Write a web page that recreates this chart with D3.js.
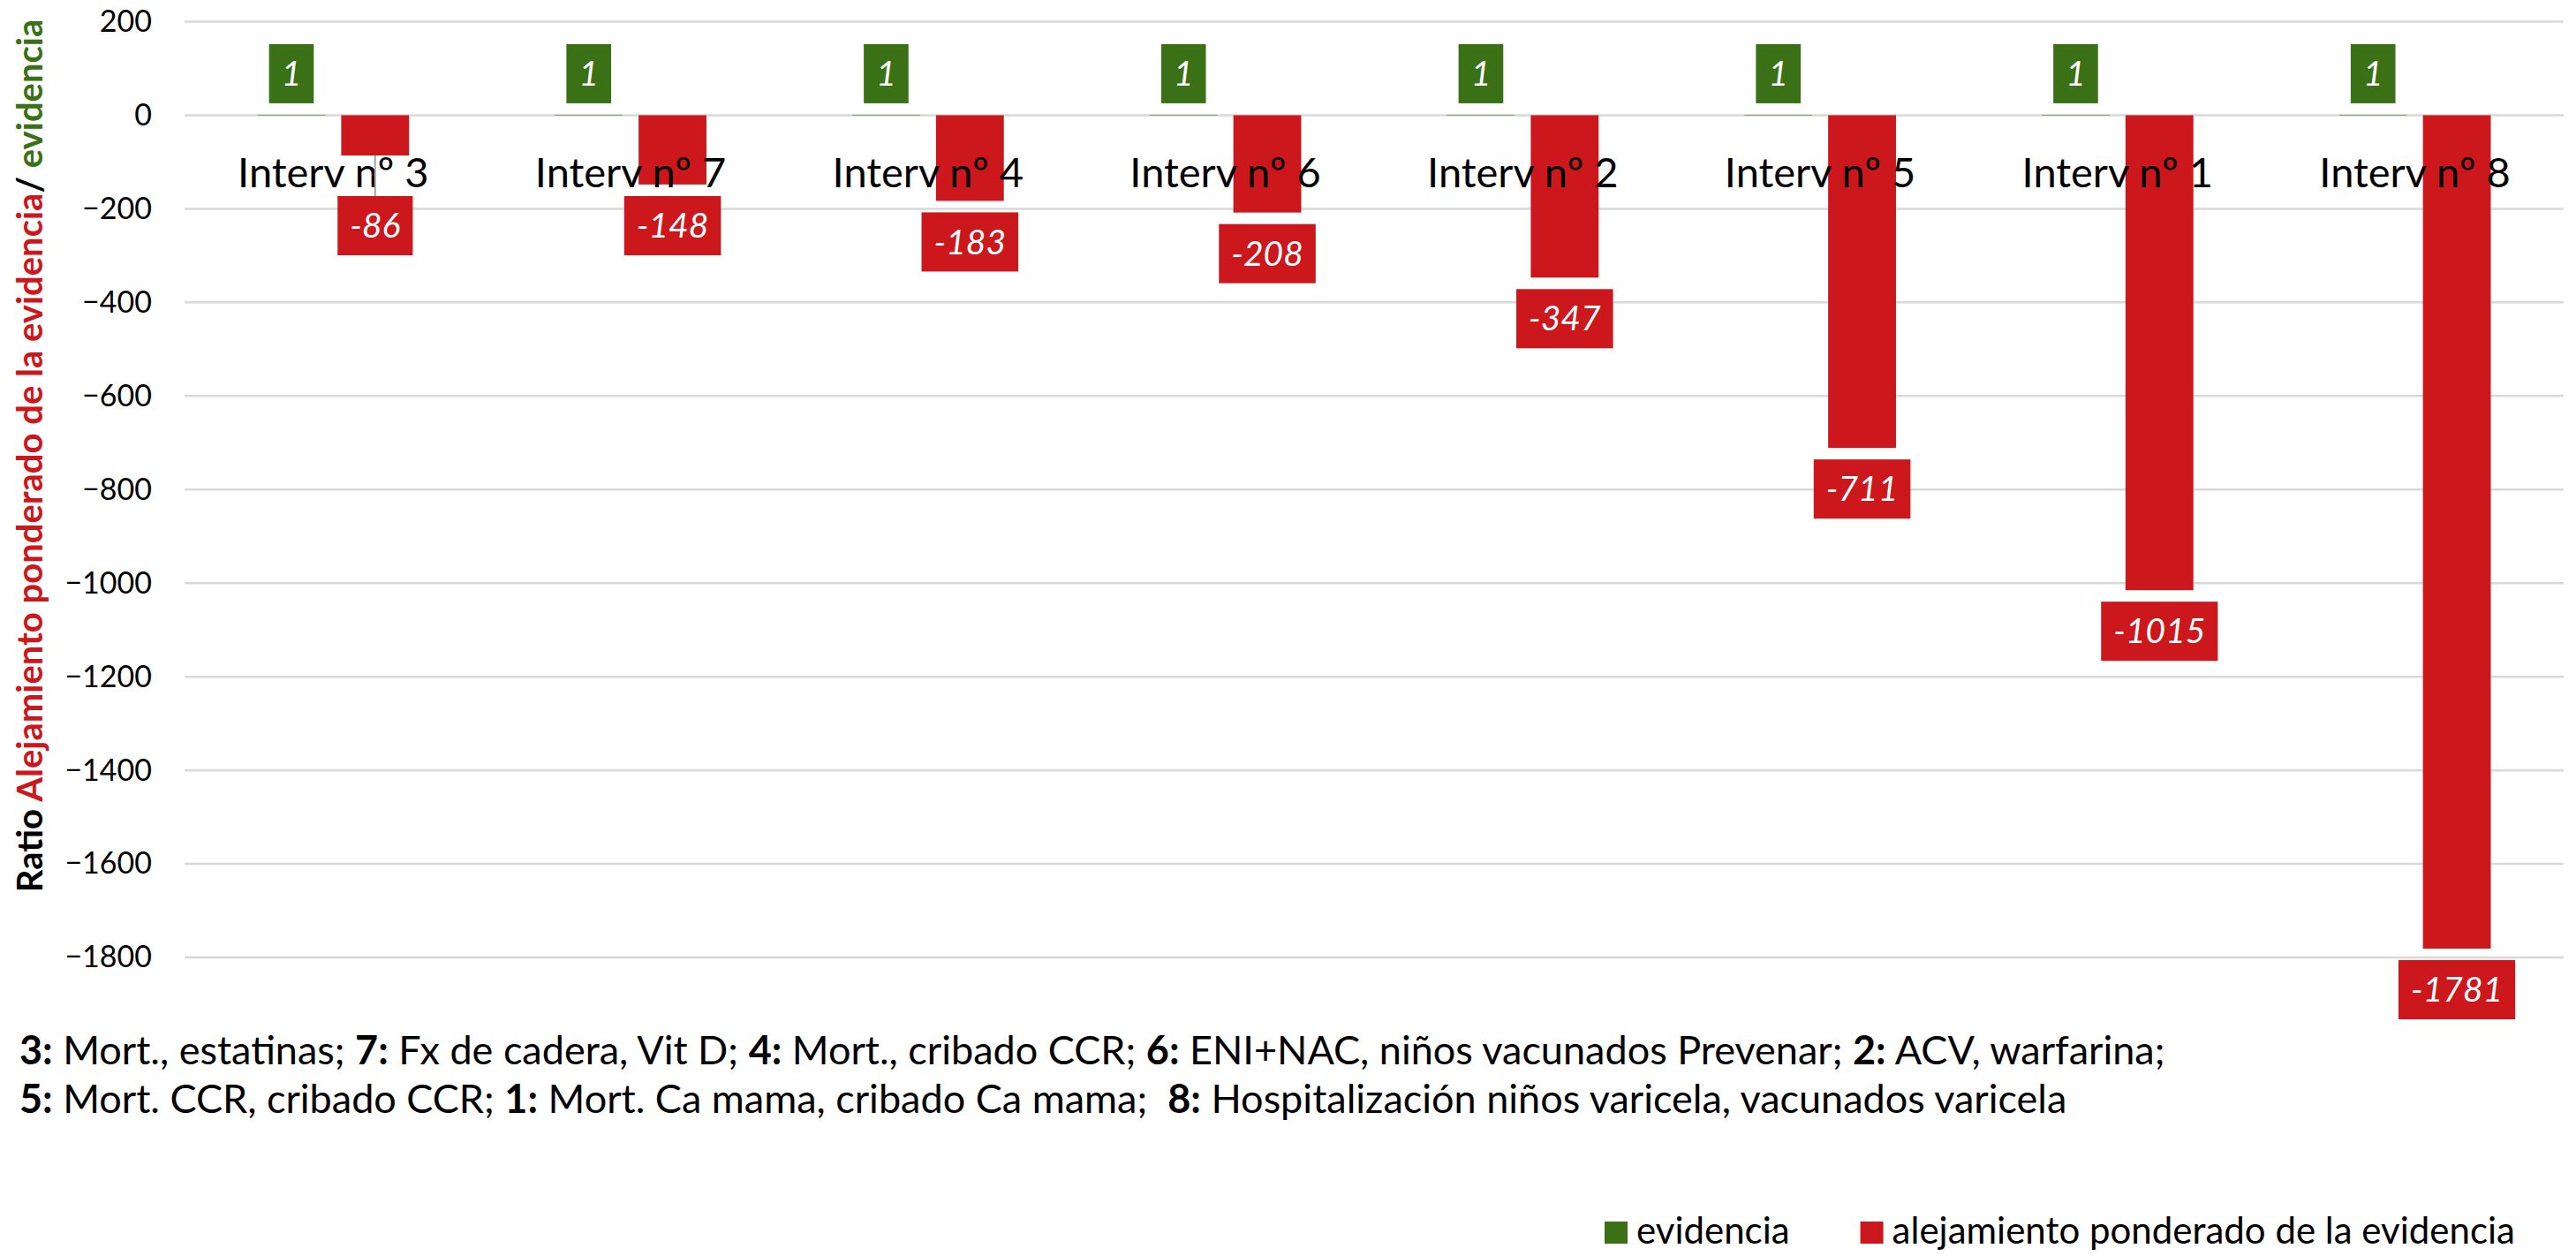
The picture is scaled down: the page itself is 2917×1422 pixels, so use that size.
<!DOCTYPE html>
<html>
<head>
<meta charset="utf-8">
<script src="https://cdn.jsdelivr.net/npm/d3@7"></script>
<style>
  body { margin: 0; background: #fff; }
  text { font-family: Lato, "Open Sans", sans-serif; }
</style>
</head>
<body>
<script>
const svgWidth = 2917;
const svgHeight = 1422;

// data
const categories = ["Interv nº 3", "Interv nº 7", "Interv nº 4", "Interv nº 6",
    "Interv nº 2", "Interv nº 5", "Interv nº 1", "Interv nº 8"];
const evidencia = [1, 1, 1, 1, 1, 1, 1, 1];
const alejamiento = [-86, -148, -183, -208, -347, -711, -1015, -1781];
const seriesNames = ["evidencia", "alejamiento ponderado de la evidencia"];
const yTicks = [200, 0, -200, -400, -600, -800, -1000, -1200, -1400, -1600, -1800];
const noteLines = [
    [["3:", true], [" Mort., estatinas; ", false], ["7:", true], [" Fx de cadera, Vit D; ", false],
     ["4:", true], [" Mort., cribado CCR; ", false], ["6:", true], [" ENI+NAC, niños vacunados Prevenar; ", false],
     ["2:", true], [" ACV, warfarina;", false]],
    [["5:", true], [" Mort. CCR, cribado CCR; ", false], ["1:", true], [" Mort. Ca mama, cribado Ca mama;  ", false],
     ["8:", true], [" Hospitalización niños varicela, vacunados varicela", false]]
];

const green = "#3a7016";
const red = "#cc181d";

const svg = d3.select("body").append("svg").attr("width", svgWidth).attr("height", svgHeight);

svg.append("rect")
    .attr("width", "100%")
    .attr("height", "100%")
    .attr("fill", "#fff");

const plotLeft = 209;
const plotRight = 2903;

const y = d3.scaleLinear().domain([200, -1781]).range([24.5, 1074]);

const x0 = d3.scaleBand().domain(categories).range([plotLeft, plotRight]);
const x1 = d3.scaleBand().domain(seriesNames).range([0, x0.bandwidth()])
    .paddingInner(0.19).paddingOuter(0.87);

const rows = categories.map((c, i) => ({cat: c, ev: evidencia[i], al: alejamiento[i]}));

// gridlines
svg.append("g").selectAll("line").data(yTicks).join("line")
    .attr("x1", plotLeft)
    .attr("x2", plotRight)
    .attr("y1", d => y(d))
    .attr("y2", d => y(d))
    .attr("stroke", "#d9d9d9")
    .attr("stroke-width", 2.5);

// y axis labels
const yAxis = d3.axisLeft(y).tickValues(yTicks).tickFormat(d3.format("d")).tickSize(0).tickPadding(0);
const yg = svg.append("g").attr("transform", "translate(172,0)").call(yAxis);
yg.select(".domain").remove();
yg.selectAll("text")
    .attr("font-family", "Lato")
    .attr("font-size", 34)
    .attr("fill", "#000");

// bars
const groups = svg.append("g").selectAll("g").data(rows).join("g")
    .attr("transform", d => "translate(" + x0(d.cat) + ",0)");

groups.append("rect")
    .attr("x", x1(seriesNames[0]))
    .attr("width", x1.bandwidth())
    .attr("y", d => y(d.ev))
    .attr("height", d => y(0) - y(d.ev))
    .attr("fill", green);

groups.append("rect")
    .attr("x", x1(seriesNames[1]))
    .attr("width", x1.bandwidth())
    .attr("y", y(0))
    .attr("height", d => y(d.al) - y(0))
    .attr("fill", red);

// category labels, drawn over the bars
svg.append("g").selectAll("text").data(categories).join("text")
    .attr("x", d => x0(d) + x0.bandwidth() / 2)
    .attr("y", 212)
    .attr("text-anchor", "middle")
    .attr("font-size", 47)
    .attr("fill", "#000")
    .text(d => d);

// data labels
const labelH = 67;
const labelPad = 14;
const labelMinTop = 222;

function addLabel(g, cx, top, txt, color) {
    const t = g.append("text")
        .attr("x", cx)
        .attr("y", top + labelH / 2)
        .attr("dy", "0.35em")
        .attr("text-anchor", "middle")
        .attr("font-size", 39)
        .attr("font-style", "italic")
        .attr("fill", "#fff")
        .text(txt);
    const w = t.node().getComputedTextLength() + labelPad * 2;
    g.insert("rect", "text")
        .attr("x", cx - w / 2)
        .attr("y", top)
        .attr("width", w)
        .attr("height", labelH)
        .attr("fill", color);
}

const labels = svg.append("g");
rows.forEach(d => {
    const g = labels.append("g");
    const gx = x0(d.cat) + x1(seriesNames[0]) + x1.bandwidth() / 2;
    addLabel(g, gx, y(d.ev) - 13 - labelH, d.ev, green);

    const rx = x0(d.cat) + x1(seriesNames[1]) + x1.bandwidth() / 2;
    const end = y(d.al);
    const top = Math.max(end + 13, labelMinTop);
    if (top > end + 20) {
        // leader line when label was pushed below the category text
        g.append("line")
            .attr("x1", rx).attr("x2", rx)
            .attr("y1", end).attr("y2", top)
            .attr("stroke", "#a6a6a6")
            .attr("stroke-width", 2);
    }
    addLabel(g, rx, top, d.al, red);
});

// y axis title
const title = svg.append("text")
    .attr("transform", "translate(48,516) rotate(-90)")
    .attr("text-anchor", "middle")
    .attr("font-size", 40)
    .attr("font-weight", "bold");
title.append("tspan").attr("fill", "#000").text("Ratio ");
title.append("tspan").attr("fill", red).text("Alejamiento ponderado de la evidencia");
title.append("tspan").attr("fill", "#000").text("/ ");
title.append("tspan").attr("fill", green).text("evidencia");

// notes below the chart
noteLines.forEach((parts, i) => {
    const t = svg.append("text")
        .attr("x", 22)
        .attr("y", 1205 + i * 55)
        .attr("font-size", 45)
        .attr("fill", "#000")
        .attr("xml:space", "preserve")
        .style("white-space", "pre");
    parts.forEach(p => {
        t.append("tspan")
            .attr("font-weight", p[1] ? "bold" : "normal")
            .text(p[0]);
    });
});

// legend
const legend = svg.append("g");
let lx = 1817;
[[seriesNames[0], green], [seriesNames[1], red]].forEach(item => {
    legend.append("rect")
        .attr("x", lx)
        .attr("y", 1383)
        .attr("width", 26)
        .attr("height", 25)
        .attr("fill", item[1]);
    const t = legend.append("text")
        .attr("x", lx + 36)
        .attr("y", 1408)
        .attr("font-size", 42)
        .attr("fill", "#000")
        .text(item[0]);
    lx += 36 + t.node().getComputedTextLength() + 80;
});
</script>
</body>
</html>
